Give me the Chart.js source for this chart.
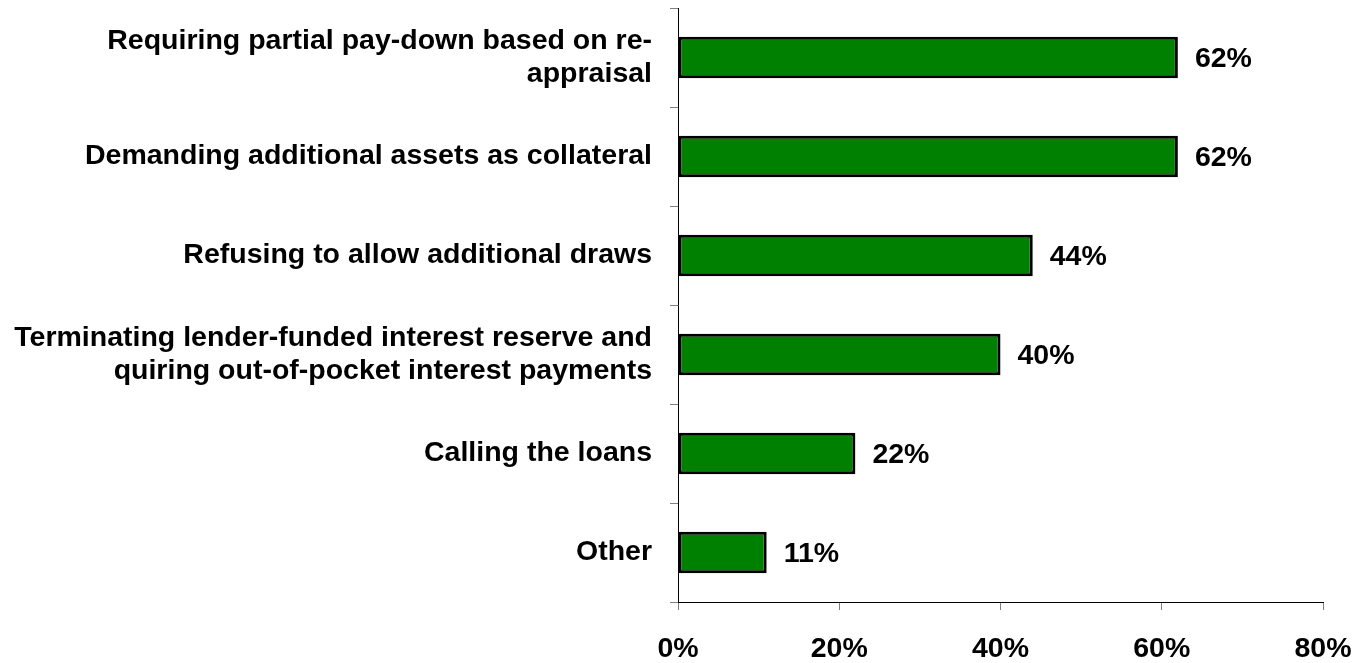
<!DOCTYPE html>
<html>
<head>
<meta charset="utf-8">
<script src="https://cdn.jsdelivr.net/npm/chart.js@4/dist/chart.umd.min.js"></script>
<style>
  html, body { margin: 0; padding: 0; background: #ffffff; }
  #wrap { width: 1365px; height: 663px; position: relative; }
</style>
</head>
<body>
<div id="wrap"><canvas id="c" width="1365" height="663"></canvas></div>
<script>
const categories = [
  ["Requiring partial pay-down based on re-", "appraisal"],
  "Demanding additional assets as collateral",
  "Refusing to allow additional draws",
  ["Terminating lender-funded interest reserve and", "quiring out-of-pocket interest payments"],
  "Calling the loans",
  "Other"
];
const values = [62, 62, 44, 40, 22, 11];
const xMin = 0;
const xMax = 80;
const xStep = 20;

const FONT = '"Liberation Sans", Arial, Helvetica, sans-serif';

const valueLabels = {
  id: 'valueLabels',
  afterDatasetsDraw(chart) {
    const ctx = chart.ctx;
    const meta = chart.getDatasetMeta(0);
    ctx.save();
    ctx.font = 'bold 28.5px ' + FONT;
    ctx.fillStyle = '#000000';
    ctx.textAlign = 'left';
    ctx.textBaseline = 'middle';
    meta.data.forEach((bar, i) => {
      ctx.fillText(values[i] + '%', bar.x + 17, bar.y + 2);
    });
    ctx.restore();
  }
};

new Chart(document.getElementById('c'), {
  type: 'bar',
  data: {
    labels: categories,
    datasets: [{
      data: values,
      backgroundColor: '#008000',
      borderColor: '#000000',
      borderWidth: 3,
      borderSkipped: false,
      barPercentage: 0.42,
      categoryPercentage: 1.0
    }]
  },
  options: {
    indexAxis: 'y',
    responsive: false,
    animation: false,
    layout: { padding: { top: 8, right: 42, left: 0, bottom: 0 } },
    plugins: { legend: { display: false }, tooltip: { enabled: false } },
    scales: {
      x: {
        min: xMin, max: xMax,
        ticks: {
          stepSize: xStep,
          callback: v => v + '%',
          color: '#000000',
          font: { family: FONT, size: 28.5, weight: 'bold' },
          padding: 22,
          maxRotation: 0
        },
        grid: { drawOnChartArea: false, drawTicks: true, tickLength: 8, color: '#808080' },
        border: { display: true, color: '#000000', width: 1 },
        afterFit(scale) { scale.height = 61; scale.paddingLeft = 0; scale.paddingRight = 0; }
      },
      y: {
        ticks: {
          color: '#000000',
          font: { family: FONT, size: 28.5, weight: 'bold', lineHeight: 1.16 },
          padding: 18,
          autoSkip: false
        },
        grid: { drawOnChartArea: false, drawTicks: true, tickLength: 8, color: '#808080', offset: true },
        border: { display: true, color: '#000000', width: 1 },
        afterFit(scale) { scale.width = 678; scale.paddingTop = 0; scale.paddingBottom = 0; }
      }
    }
  },
  plugins: [valueLabels]
});
</script>
</body>
</html>
